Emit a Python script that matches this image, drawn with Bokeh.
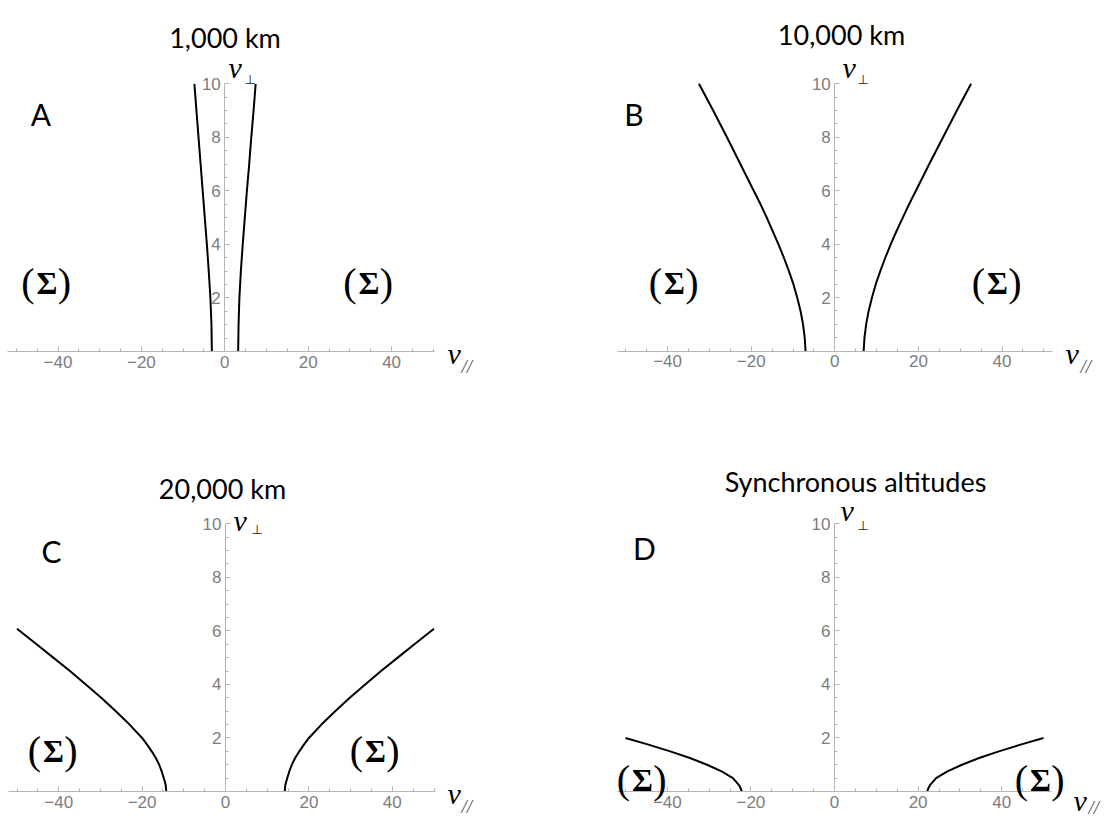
from bokeh.plotting import figure
from bokeh.models import Range1d, Label, FixedTicker
from bokeh.layouts import column, row
from bokeh.embed import file_html
from bokeh.resources import INLINE

# ---------------- data ----------------
titles = ["1,000 km", "10,000 km", "20,000 km", "Synchronous altitudes"]
letters = ["A", "B", "C", "D"]

A_vperp = [0, 1, 2, 3, 4, 5, 6, 7, 8, 9, 10]
A_right = [3.2, 3.3, 3.5, 3.85, 4.3, 4.8, 5.3, 5.85, 6.35, 6.9, 7.4]
A_left = [-3.1, -3.2, -3.45, -3.85, -4.3, -4.8, -5.3, -5.8, -6.3, -6.8, -7.3]

B_vperp = [0, 0.5, 1, 1.5, 2, 2.5, 3, 3.5, 4, 4.5, 5, 5.5, 6, 7, 8, 9, 10]
B_right = [6.9, 7.1, 7.5, 8.1, 8.9, 9.8, 10.9, 12.1, 13.4, 14.8, 16.3, 17.8, 19.4, 22.6, 25.9, 29.2, 32.6]
B_left = [-7.0, -7.2, -7.6, -8.2, -9.0, -9.9, -11.0, -12.2, -13.5, -14.9, -16.3, -17.8, -19.4, -22.6, -25.8, -29.1, -32.5]

C_vperp = [0, 0.25, 0.5, 0.75, 1, 1.25, 1.5, 1.75, 2, 2.5, 3, 3.5, 4, 4.5, 5, 5.5, 6.08]
C_right = [14.2, 14.35, 14.8, 15.3, 15.9, 16.7, 17.7, 18.8, 20.0, 23.0, 26.3, 29.8, 33.5, 37.3, 41.3, 45.3, 50.0]
C_left = [-14.2, -14.35, -14.8, -15.3, -15.9, -16.7, -17.7, -18.8, -20.0, -23.0, -26.3, -29.8, -33.5, -37.3, -41.3, -45.3, -50.0]

D_vperp = [0, 0.1, 0.25, 0.5, 0.75, 1, 1.25, 1.5, 1.75, 2.0]
D_right = [22.2, 22.4, 22.9, 24.3, 27.0, 30.5, 34.6, 39.3, 44.5, 50.0]
D_left = [-22.2, -22.4, -22.9, -24.3, -27.0, -30.5, -34.6, -39.3, -44.5, -50.0]

x_major = [-40, -20, 0, 20, 40]
x_minor = [-50, -45, -35, -30, -25, -15, -10, -5, 5, 10, 15, 25, 30, 35, 45, 50]
y_major = [2, 4, 6, 8, 10]
y_minor = [0.5, 1, 1.5, 2.5, 3, 3.5, 4.5, 5, 5.5, 6.5, 7, 7.5, 8.5, 9, 9.5]
x_label_overrides = {-40: "\u221240", -20: "\u221220"}

curves = [(A_vperp, A_right, A_left), (B_vperp, B_right, B_left),
          (C_vperp, C_right, C_left), (D_vperp, D_right, D_left)]

# ---------------- layout (page pixels) ----------------
panels = [
    dict(ox=0, oy=0, w=557, h=430, x0=224.3, y0=351.0, xs=4.17, ys=26.77, xb=(-52, 50.3)),
    dict(ox=557, oy=0, w=557, h=430, x0=834.3, y0=350.5, xs=4.18, ys=26.72, xb=(-52, 52)),
    dict(ox=0, oy=430, w=557, h=389, x0=225.0, y0=791.0, xs=4.17, ys=26.77, xb=(-52, 50.3)),
    dict(ox=557, oy=430, w=557, h=389, x0=834.0, y0=791.0, xs=4.18, ys=26.77, xb=(-52, 52)),
]

# text placements in page pixels
text_pos = [
    dict(title=(224.5, 37), letter=(40.5, 113), sig=[(46.5, 282), (368.5, 282)],
         vp=(228, 67), perp=(244, 79), vl=(447, 353), par=(461, 366)),
    dict(title=(841, 34), letter=(633.5, 113), sig=[(674, 282), (997, 282)],
         vp=(842, 67), perp=(857, 79), vl=(1065, 353), par=(1080, 366)),
    dict(title=(222, 488), letter=(51, 550), sig=[(53, 750), (375, 750)],
         vp=(233, 520), perp=(251, 529), vl=(447, 793), par=(461, 806)),
    dict(title=(855, 481), letter=(644, 547), sig=[(642, 779), (1040, 779)],
         vp=(840, 510), perp=(857, 525), vl=(1073, 800), par=(1088, 807)),
]

AXIS_COLOR = "#b5b5b5"
TICKLABEL_COLOR = "#7d7d7d"


def to_data(s, px, py):
    return (px - s["x0"]) / s["xs"], (s["y0"] - py) / s["ys"]


def add_label(p, s, px, py, text, font, size, style="normal", align="left",
              baseline="alphabetic", color="black"):
    x, y = to_data(s, px, py)
    p.add_layout(Label(x=x, y=y, text=text, text_font=font, text_font_size=size,
                       text_font_style=style, text_align=align, text_baseline=baseline,
                       text_color=color))


figs = []
for i, s in enumerate(panels):
    xr = Range1d((s["ox"] - s["x0"]) / s["xs"], (s["ox"] + s["w"] - s["x0"]) / s["xs"])
    yr = Range1d((s["y0"] - (s["oy"] + s["h"])) / s["ys"], (s["y0"] - s["oy"]) / s["ys"])
    p = figure(width=s["w"], height=s["h"], x_range=xr, y_range=yr,
               output_backend="svg", toolbar_location=None, min_border=0,
               outline_line_color=None, background_fill_color="white",
               border_fill_color="white")
    p.grid.visible = False

    # axes crossing at the origin
    xa = p.xaxis[0]
    xa.fixed_location = 0
    xa.bounds = s["xb"]
    xa.ticker = FixedTicker(ticks=x_major, minor_ticks=x_minor)
    xa.major_label_overrides = x_label_overrides
    ya = p.yaxis[0]
    ya.fixed_location = 0
    ya.bounds = (0, 10)
    ya.ticker = FixedTicker(ticks=y_major, minor_ticks=y_minor)
    for ax in (xa, ya):
        ax.axis_line_color = AXIS_COLOR
        ax.major_tick_line_color = AXIS_COLOR
        ax.minor_tick_line_color = AXIS_COLOR
        ax.major_tick_in = 5
        ax.major_tick_out = 0
        ax.minor_tick_in = 3
        ax.minor_tick_out = 0
        ax.major_label_text_color = TICKLABEL_COLOR
        ax.major_label_text_font = "Liberation Sans"
        ax.major_label_text_font_size = "17px"
        ax.major_label_standoff = 4

    vp, vr, vl = curves[i]
    p.line(vr, vp, line_width=2, line_color="black", line_join="round")
    p.line(vl, vp, line_width=2, line_color="black", line_join="round")

    t = text_pos[i]
    add_label(p, s, *t["title"], titles[i], "Lato", "27px", align="center")
    add_label(p, s, *t["letter"], letters[i], "Lato", "30px", align="center")
    for (cx, by) in t["sig"]:
        add_label(p, s, cx - 19, by, "(", "Liberation Serif", "40px", align="center")
        add_label(p, s, cx, by, "\u03a3", "Liberation Serif", "32px", style="bold", align="center")
        add_label(p, s, cx + 17.5, by, ")", "Liberation Serif", "40px", align="center")
    add_label(p, s, *t["vp"], "v", "Liberation Serif", "30px", style="italic")
    add_label(p, s, *t["perp"], "\u22a5", "DejaVu Sans", "13px", color="#222222")
    add_label(p, s, *t["vl"], "v", "Liberation Serif", "30px", style="italic")
    add_label(p, s, *t["par"], "//", "Liberation Serif", "19px", style="italic", color="#555555")
    figs.append(p)

layout = column(row(figs[0], figs[1]), row(figs[2], figs[3]))
open("out.html", "w").write(file_html(layout, INLINE))
